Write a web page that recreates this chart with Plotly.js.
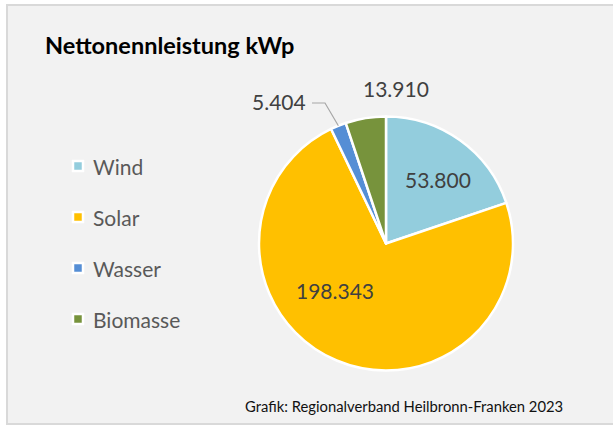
<!DOCTYPE html>
<html>
<head>
<meta charset="utf-8">
<script src="https://cdn.plot.ly/plotly-3.0.1.min.js"></script>
<style>
  body { margin: 0; background: #ffffff; }
  #frame {
    position: absolute; left: 6px; top: 4px; width: 620px; height: 417px;
    background: #f2f2f2; border: 2px solid #d9d9d9;
  }
  #chart { position: absolute; left: 0; top: 0; width: 613px; height: 428px; }
</style>
</head>
<body>
<div id="frame"></div>
<div id="chart"></div>
<script>
// Nettonennleistung in kWp
var categories = ['Wind', 'Solar', 'Wasser', 'Biomasse'];
var values = [53800, 198343, 5404, 13910];
var colors = ['#93cddd', '#ffc000', '#558ed5', '#77933c'];

var W = 613, H = 428;
// pie box in pixels
var pie = { cx: 386, cy: 243.5, r: 127 };

function px(x) { return x / W; }
function py(y) { return 1 - y / H; }

function fmt(v) {
    return String(v).replace(/\B(?=(\d{3})+(?!\d))/g, '.');
}

var trace = {
    type: 'pie',
    labels: categories,
    values: values,
    sort: false,
    direction: 'clockwise',
    rotation: 0,
    textinfo: 'none',
    hoverinfo: 'label+value',
    marker: { colors: colors, line: { color: '#ffffff', width: 2.5 } },
    domain: {
        x: [px(pie.cx - pie.r), px(pie.cx + pie.r)],
        y: [py(pie.cy + pie.r), py(pie.cy - pie.r)]
    },
    showlegend: false
};

var labelFont = { family: 'Lato, sans-serif', size: 21, color: '#404040' };
// where the value labels sit (pixels)
var labelPos = [[438, 180], [335, 290], [279, 102], [396, 88]];

var annotations = [];
var shapes = [];

values.forEach(function(v, i) {
    annotations.push({
        xref: 'paper', yref: 'paper',
        x: px(labelPos[i][0]), y: py(labelPos[i][1]),
        xanchor: 'center', yanchor: 'middle',
        text: fmt(v), showarrow: false, font: labelFont
    });
});

// leader line for the Wasser label, ending at the middle of its slice
var total = values.reduce(function(a, b) { return a + b; }, 0);
var before = values[0] + values[1];
var mid = (before + values[2] / 2) / total * 2 * Math.PI;
var ex = pie.cx + Math.sin(mid) * pie.r;
var ey = pie.cy - Math.cos(mid) * pie.r;
var sx = labelPos[2][0] + 33, sy = labelPos[2][1] + 1;
shapes.push({
    type: 'path', xref: 'paper', yref: 'paper',
    path: 'M ' + px(sx) + ' ' + py(sy) + ' L ' + px(sx + 13) + ' ' + py(sy) +
          ' L ' + px(ex) + ' ' + py(ey),
    line: { color: '#a6a6a6', width: 1.2 }
});

// legend
var legendTop = 166, legendGap = 51;
categories.forEach(function(c, i) {
    var y = legendTop + i * legendGap;
    shapes.push({
        type: 'rect', xref: 'paper', yref: 'paper',
        x0: px(73), x1: px(83), y0: py(y + 5), y1: py(y - 5),
        fillcolor: colors[i], line: { color: '#ffffff', width: 2.5 }
    });
    annotations.push({
        xref: 'paper', yref: 'paper',
        x: px(91), y: py(y), xanchor: 'left', yanchor: 'middle',
        text: c, showarrow: false,
        font: { family: 'Lato, sans-serif', size: 21, color: '#595959' }
    });
});

annotations.push({
    xref: 'paper', yref: 'paper',
    x: px(243), y: py(406), xanchor: 'left', yanchor: 'middle',
    text: 'Grafik: Regionalverband Heilbronn-Franken 2023', showarrow: false,
    font: { family: 'Lato, sans-serif', size: 14.8, color: '#111111' }
});

var layout = {
    width: W, height: H,
    margin: { l: 0, r: 0, t: 0, b: 0 },
    paper_bgcolor: 'rgba(0,0,0,0)',
    separators: ',.',
    title: {
        text: '<b>Nettonennleistung kWp</b>',
        xref: 'paper', yref: 'paper',
        x: px(45), y: py(46), xanchor: 'left', yanchor: 'middle',
        font: { family: 'Lato, sans-serif', size: 23.5, color: '#000000' }
    },
    showlegend: false,
    annotations: annotations,
    shapes: shapes
};

Plotly.newPlot('chart', [trace], layout, { displayModeBar: false, staticPlot: true });
</script>
</body>
</html>
